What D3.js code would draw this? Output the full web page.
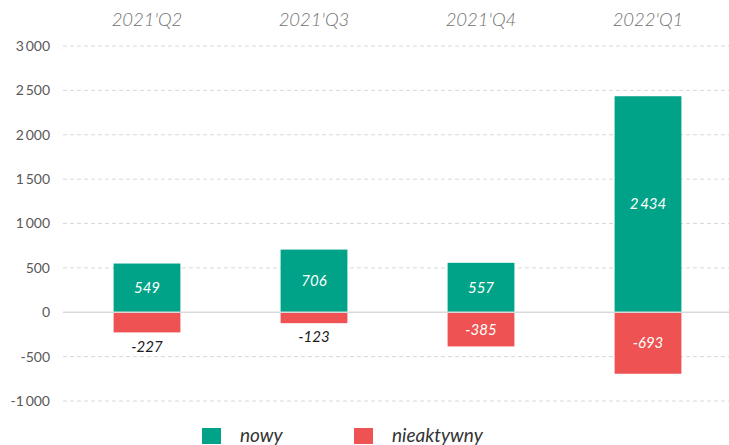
<!DOCTYPE html>
<html><head><meta charset="utf-8">
<script src="https://cdn.jsdelivr.net/npm/d3@7/dist/d3.min.js"></script>
<style>body{margin:0;background:#fff;}svg{display:block;font-family:Lato,sans-serif;}</style>
</head><body>
<svg id="c" width="729" height="445"></svg>
<script>
const categories = ["2021'Q2","2021'Q3","2021'Q4","2022'Q1"];
const nowy = [549, 706, 557, 2434];
const nieaktywny = [-227, -123, -385, -693];
const yTicks = [3000,2500,2000,1500,1000,500,0,-500,-1000];
const seriesNames = ["nowy","nieaktywny"];
const colors = ["#00A387","#EE5252"];

const svg = d3.select("#c");
const x = d3.scaleBand().domain(categories).range([63.5, 731.5]).paddingInner(0.6).paddingOuter(0.3);
const y = d3.scaleLinear().domain([-1000, 3000]).range([401, 46]);
const fmt = v => {
  const s = Math.abs(v) >= 1000 ? d3.format(",")(Math.abs(v)).replace(/,/g, "\u2009") : String(Math.abs(v));
  return (v < 0 ? "-" : "") + s;
};

// grid
svg.append("g").selectAll("line").data(yTicks.filter(d=>d!==0)).join("line")
  .attr("x1", 63).attr("x2", 729).attr("y1", d=>y(d)).attr("y2", d=>y(d))
  .attr("stroke", "#d9d9d9").attr("stroke-dasharray", "4,3").attr("stroke-width", 1);

// y labels
svg.append("g").selectAll("text").data(yTicks).join("text")
  .attr("x", 50).attr("y", d=>y(d)).attr("dy", "0.35em").attr("text-anchor","end")
  .attr("fill","#595959").attr("font-size", 14).text(d=>fmt(d));

// category labels
svg.append("g").selectAll("text").data(categories).join("text")
  .attr("x", d=>x(d)+x.bandwidth()/2).attr("y", 20).attr("dy","0.35em").attr("text-anchor","middle")
  .attr("fill","#707070").attr("font-size", 18.5).attr("font-style","italic").attr("font-weight", 300).text(d=>d);

const bw = x.bandwidth();
// bars
const series = [nowy, nieaktywny];
series.forEach((vals, si) => {
  svg.append("g").selectAll("rect").data(vals).join("rect")
    .attr("x", (d,i)=>x(categories[i])).attr("width", bw)
    .attr("y", d=>Math.min(y(d), y(0))).attr("height", d=>Math.abs(y(d)-y(0)))
    .attr("fill", colors[si]);
});

// zero line
svg.append("line").attr("x1",63).attr("x2",729).attr("y1",y(0)).attr("y2",y(0))
  .attr("stroke","#d9d9d9").attr("stroke-width",1.5);

// value labels
series.forEach((vals, si) => {
  svg.append("g").selectAll("text").data(vals).join("text")
    .attr("x", (d,i)=>x(categories[i])+bw/2)
    .attr("y", d=>{
      const h = Math.abs(y(d)-y(0));
      if (h < 30) return y(d) + 14;
      return (y(d)+y(0))/2;
    })
    .attr("dy","0.35em").attr("text-anchor","middle")
    .attr("font-size", 15).attr("font-style","italic")
    .attr("fill", d=>Math.abs(y(d)-y(0)) < 30 ? "#1a1a1a" : "#ffffff")
    .text(d=>fmt(d));
});

// legend
const lx = [202, 354];
seriesNames.forEach((n,i)=>{
  svg.append("rect").attr("x", lx[i]).attr("y", 428).attr("width", 19).attr("height", 16).attr("fill", colors[i]);
  svg.append("text").attr("x", lx[i]+38).attr("y", 435).attr("dy","0.35em")
    .attr("font-size", 19).attr("font-style","italic").attr("fill","#333").text(n);
});
</script>
</body></html>
